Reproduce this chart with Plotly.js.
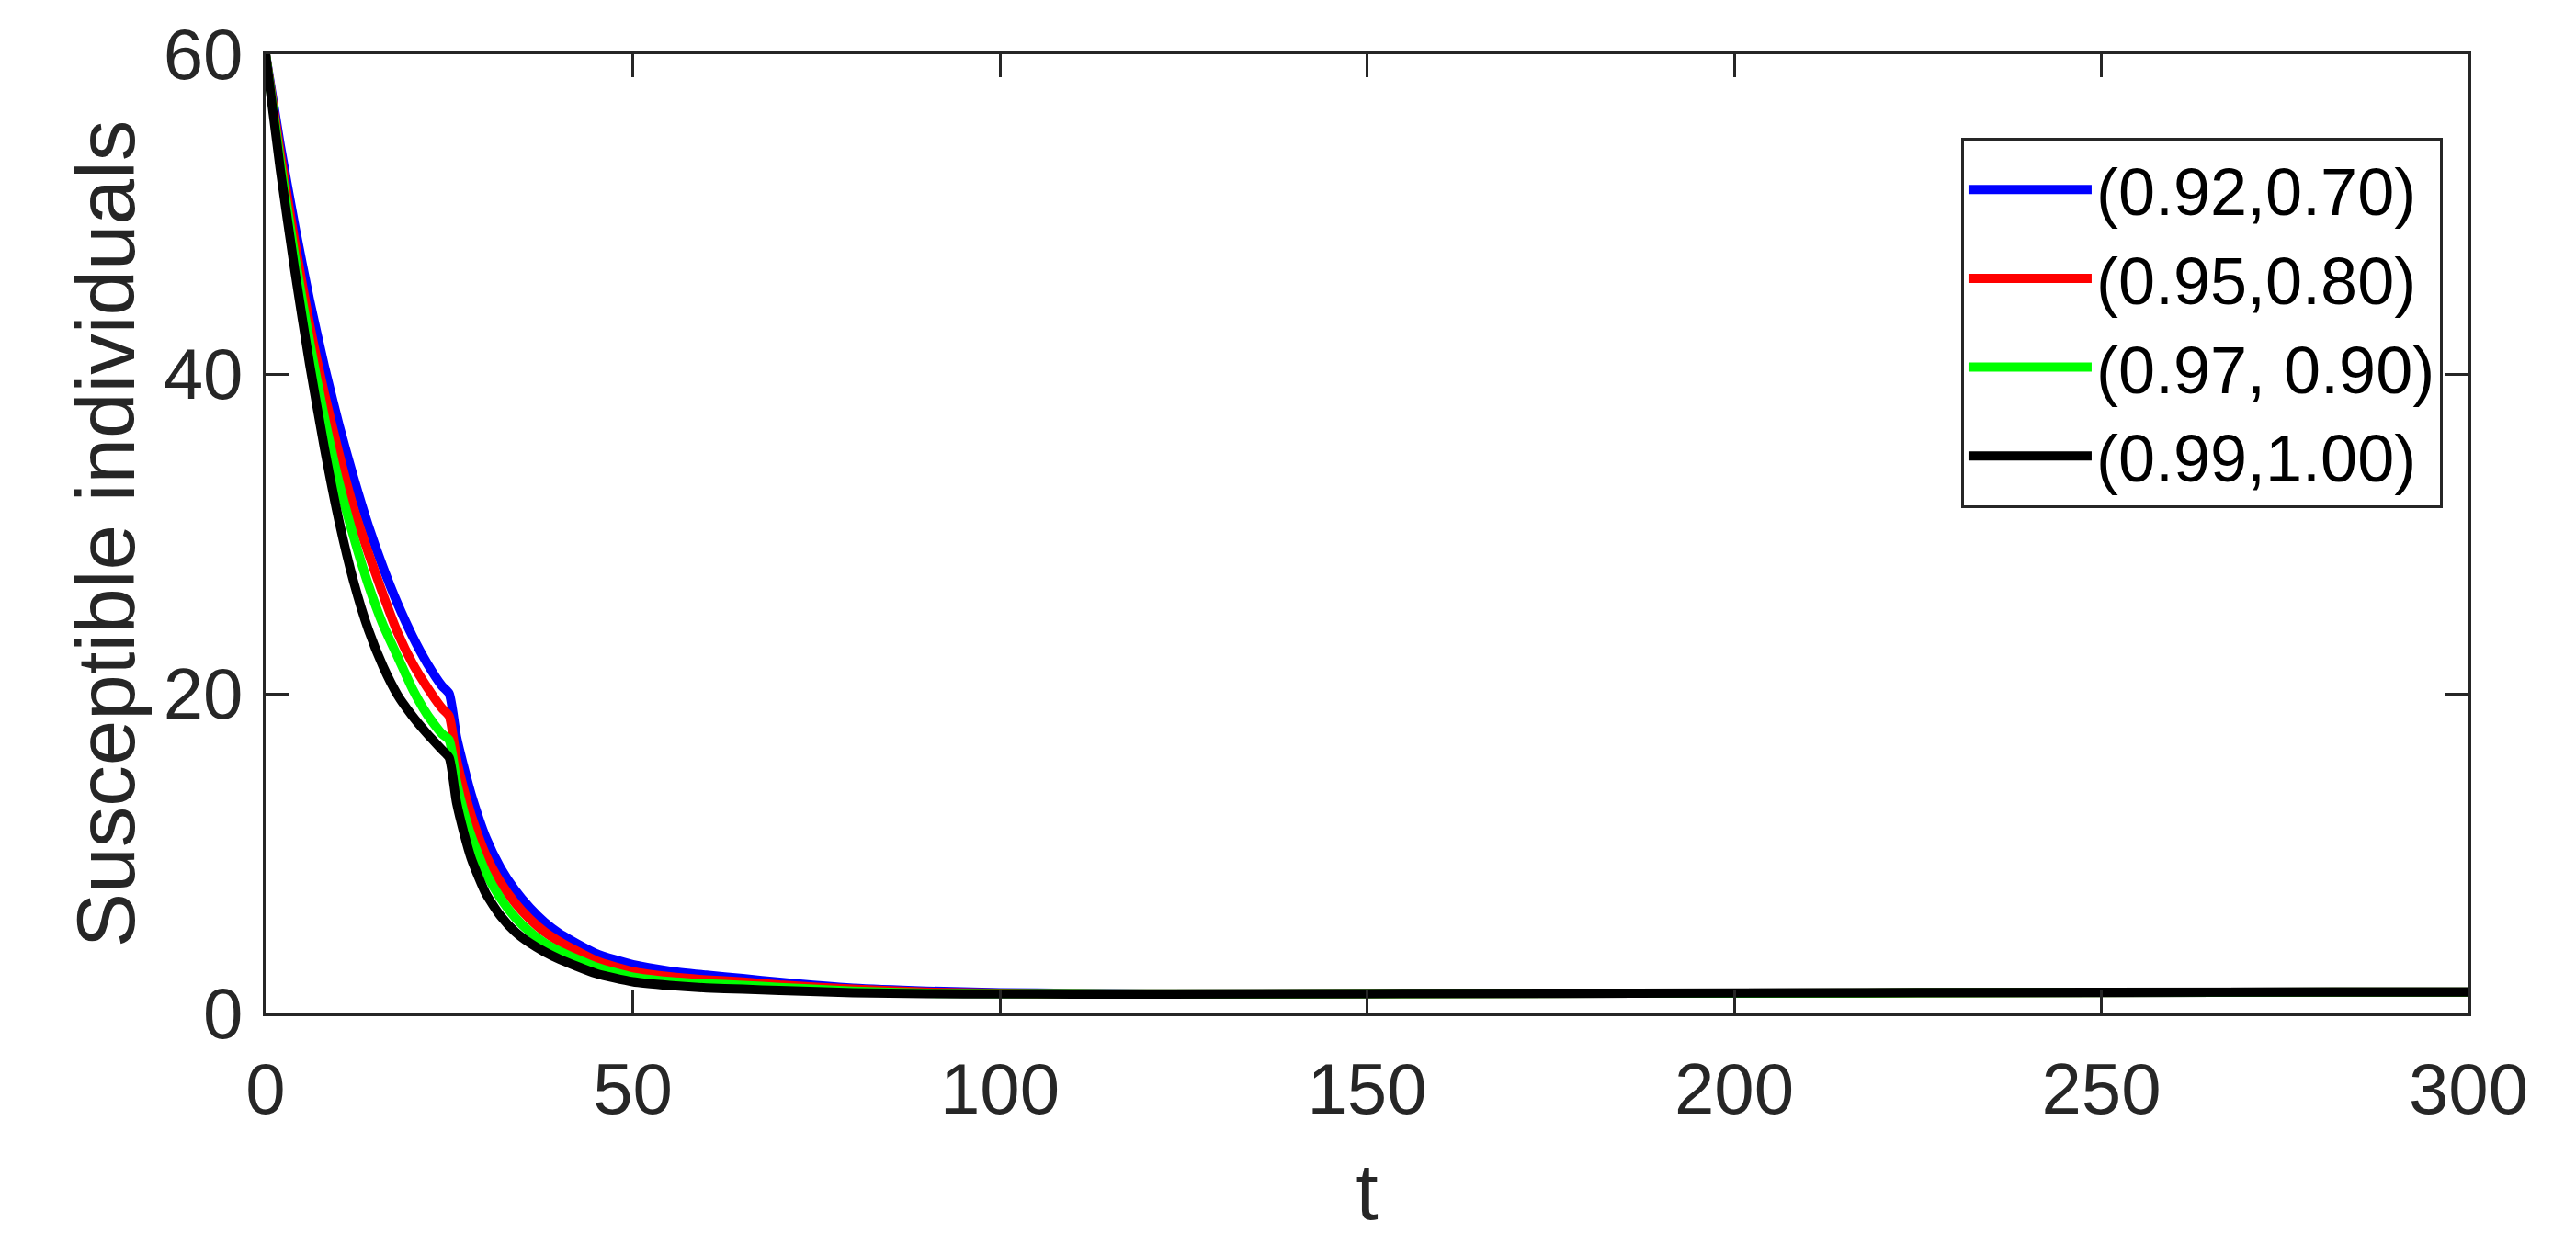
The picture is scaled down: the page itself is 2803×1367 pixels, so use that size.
<!DOCTYPE html>
<html>
<head>
<meta charset="utf-8">
<script src="https://cdn.plot.ly/plotly-3.0.1.min.js"></script>
<style>
  html, body { margin: 0; padding: 0; background: #fff; }
</style>
</head>
<body>
<div id="chart" style="width:2803px;height:1367px;"></div>
<script>
// time points (t) shared by all series
const tPts = [0, 2, 4, 6, 8, 10, 12, 14, 16, 18, 20, 22, 24, 25,
  26, 27, 28, 30, 32, 34, 36, 38, 40,
  45, 50, 55, 60, 65, 70,
  80, 90, 100, 110, 120,
  150, 200, 250, 300];

// susceptible individuals
const s092 = [60, 54.3, 49.2, 44.6, 40.5, 36.8, 33.5, 30.5, 27.9, 25.6, 23.6, 21.9, 20.5, 20.0,
  17.3, 15.4, 13.7, 11.0, 9.1, 7.7, 6.6, 5.7, 5.0,
  3.75, 3.05, 2.65, 2.4, 2.18, 1.95,
  1.58, 1.40, 1.30, 1.25, 1.22,
  1.23, 1.27, 1.31, 1.34];
const s095 = [60, 53.8, 48.2, 43.1, 38.8, 35.0, 31.6, 28.8, 26.2, 23.8, 21.9, 20.4, 19.1, 18.6,
  15.9, 14.0, 12.4, 9.9, 8.2, 6.9, 5.9, 5.1, 4.5,
  3.3, 2.62, 2.3, 2.1, 1.97, 1.78,
  1.52, 1.33, 1.26, 1.23, 1.22,
  1.23, 1.27, 1.31, 1.34];
const s097 = [60, 53.3, 47.3, 42.0, 37.3, 33.2, 29.8, 26.8, 24.3, 22.3, 20.3, 18.7, 17.5, 17.1,
  14.5, 12.6, 11.1, 8.8, 7.2, 6.0, 5.1, 4.4, 3.9,
  2.9, 2.28, 2.0, 1.85, 1.76, 1.63,
  1.40, 1.26, 1.24, 1.23, 1.22,
  1.23, 1.27, 1.31, 1.34];
const s099 = [60, 52.8, 46.4, 40.6, 35.4, 30.8, 27.0, 24.0, 21.7, 19.9, 18.6, 17.5, 16.5, 16.0,
  13.2, 11.3, 9.7, 7.5, 6.1, 5.1, 4.4, 3.85, 3.4,
  2.5, 1.98, 1.75, 1.6, 1.52, 1.43,
  1.3, 1.24, 1.22, 1.21, 1.21,
  1.24, 1.28, 1.32, 1.34];

const seriesNames = ["(0.92,0.70)", "(0.95,0.80)", "(0.97, 0.90)", "(0.99,1.00)"];
const seriesColors = ["#0000ff", "#ff0000", "#00ff00", "#000000"];
const seriesValues = [s092, s095, s097, s099];

const axisColor = "#262626";
const fontFamily = "Liberation Sans, Arial, Helvetica, sans-serif";

const traces = seriesValues.map((vals, i) => ({
  type: "scatter",
  mode: "lines",
  x: tPts,
  y: vals,
  name: seriesNames[i],
  line: { color: seriesColors[i], width: 10, shape: "spline", smoothing: 0.6 },
  hoverinfo: "x+y+name"
}));

const axisCommon = {
  showline: true,
  linecolor: axisColor,
  linewidth: 3,
  mirror: "ticks",
  ticks: "inside",
  ticklen: 25,
  tickwidth: 3,
  tickcolor: axisColor,
  showgrid: false,
  zeroline: false,
  tickfont: { family: fontFamily, size: 78, color: axisColor }
};

const layout = {
  width: 2803,
  height: 1367,
  margin: { l: 289, r: 117, t: 59, b: 264 },
  paper_bgcolor: "#ffffff",
  plot_bgcolor: "#ffffff",
  font: { family: fontFamily, color: axisColor },
  xaxis: Object.assign({}, axisCommon, {
    range: [0, 300],
    dtick: 50,
    tick0: 0,
    ticklabelstandoff: 12,
    title: { text: "t", font: { family: fontFamily, size: 88, color: axisColor }, standoff: 38 }
  }),
  yaxis: Object.assign({}, axisCommon, {
    range: [0, 60],
    dtick: 20,
    tick0: 0,
    ticklabelstandoff: 6,
    title: { text: "Susceptible individuals", font: { family: fontFamily, size: 89, color: axisColor }, standoff: 2 }
  }),
  showlegend: true,
  legend: {
    x: 0.9883,
    xanchor: "right",
    y: 0.9128,
    yanchor: "top",
    bgcolor: "#ffffff",
    bordercolor: axisColor,
    borderwidth: 3,
    itemwidth: 134,
    font: { family: fontFamily, size: 72, color: "#000000" }
  }
};

Plotly.newPlot("chart", traces, layout, { displayModeBar: false, staticPlot: true });
</script>
</body>
</html>
